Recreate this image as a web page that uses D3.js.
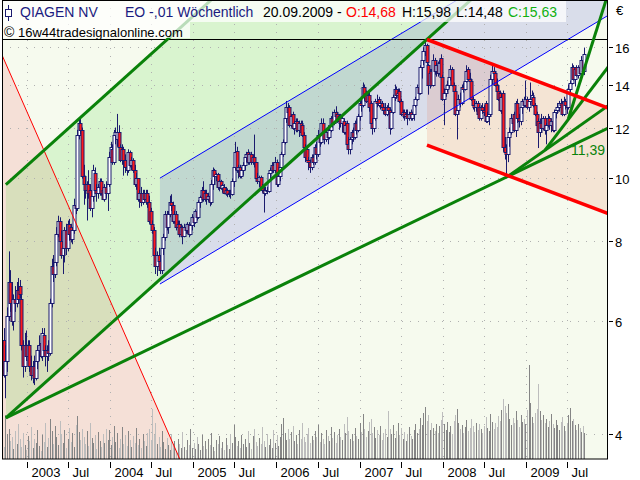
<!DOCTYPE html>
<html><head><meta charset="utf-8">
<script src="https://cdn.jsdelivr.net/npm/d3@7"></script>
<style>body{margin:0;background:#fff}svg{display:block}</style>
</head><body>
<svg id="c" width="640" height="480"></svg>
<script>
// ---------- DATA ----------
const firstWeek = "2002-09-23"; // weekly bars, one per week from here
const opens = [
5.6,4.95,5.2,6.1,6.9,6.4,6.0,6.5,6.4,6.7, 6.8,6.5,5.5,5.1,5.5,5.3,5.5,5.1,4.95,5.1,
4.9,5.2,5.4,5.55,5.3,5.7,5.4,5.3,5.4,5.35, 6.4,7.3,7.1,7.4,8.2,8.6,8.0,7.6,7.8,8.3,
7.8,8.5,8.4,8.05,8.3,9.1,9.0,11.7,12.2,11.9, 10.1,9.8,9.6,9.8,9.6,9.0,9.4,10.2,9.6,9.5,
9.7,9.9,9.6,9.3,9.7,9.5,9.8,10.8,11.1,10.6, 11.7,11.5,11.8,11.2,10.7,11.1,10.7,10.4,10.3,11.0,
10.5,10.7,10.3,9.8,10.0,9.3,9.5,9.2,9.5,9.3, 9.5,9.2,8.9,8.5,8.3,7.6,7.3,7.6,7.45,7.2,
7.8,8.1,8.8,8.4,8.8,9.2,9.1,8.6,8.8,8.4, 8.5,8.2,8.4,8.15,8.4,8.3,8.5,8.2,8.45,8.7,
8.55,8.9,8.7,9.2,9.35,9.6,9.3,9.5,9.3,9.4, 9.2,9.8,10.3,10.1,10.15,9.7,9.9,9.65,9.7,9.5,
9.6,9.45,9.5,9.45,9.9,10.4,11.05,10.3,10.4,10.1, 10.3,10.5,10.8,11.0,10.6,10.9,10.6,10.8,10.6,10.0,
9.9,10.05,9.7,9.6,9.5,9.6,9.55,10.2,10.3,10.5, 10.3,10.6,9.8,10.1,10.4,10.9,11.4,12.4,12.9,12.9,
12.1,12.6,12.0,12.2,12.3,11.9,12.2,12.1,11.7,11.2, 11.1,10.7,10.6,10.4,10.8,10.6,11.2,10.9,11.7,11.4,
12.2,11.8,11.5,11.8,11.6,11.9,12.4,12.2,12.7,12.6, 12.3,12.5,12.2,12.3,11.8,12.2,11.3,11.1,11.5,11.8,
11.6,12.2,11.9,12.5,13.1,13.0,13.9,13.6,13.2,13.5, 13.1,12.2,12.0,12.4,13.2,13.3,13.0,13.1,12.9,12.8,
12.6,12.9,12.8,12.0,12.7,13.4,13.8,13.5,13.7,13.2, 12.6,12.7,12.5,12.6,12.4,12.7,12.4,12.6,13.0,13.3,
13.9,13.6,14.9,15.3,15.8,16.1,15.0,14.0,14.7,14.0, 15.3,14.7,15.0,14.6,15.4,14.4,13.3,13.6,13.8,14.0,
14.4,14.8,14.0,13.7,12.6,12.8,13.3,13.1,13.9,13.8, 14.2,14.8,14.3,14.2,13.3,13.0,12.9,13.1,12.9,12.4,
12.9,12.8,13.1,12.3,12.5,12.6,14.3,14.7,14.6,14.0, 13.7,13.6,12.8,13.6,11.2,11.0,10.9,11.6,11.8,12.4,
12.6,11.9,13.1,12.4,12.3,12.9,13.2,13.0,13.3,12.9, 13.2,13.3,13.4,13.0,12.6,12.3,11.8,12.2,12.0,12.4,
11.9,12.1,12.4,12.1,12.3,11.9,12.7,12.8,12.9,13.1, 13.1,12.6,13.2,13.0,12.9,13.8,14.1,14.9,14.3,14.9,
14.5,14.9,14.6,15.3,14.68];
const highs = [
5.85,5.5,6.3,7.7,7.2,6.9,6.6,6.8,6.9,7.0, 6.95,6.6,5.6,5.75,5.8,5.6,5.6,5.3,5.2,5.3,
5.25,5.5,5.7,5.7,5.85,5.85,5.5,5.5,5.6,6.5, 7.5,7.6,7.5,8.4,8.75,8.7,8.3,8.0,8.4,8.5,
8.6,8.65,8.5,8.4,9.3,9.4,11.9,12.45,12.4,12.0, 10.5,10.1,9.9,10.3,9.8,9.5,10.5,10.4,9.8,9.8,
10.0,10.0,9.7,9.8,9.9,9.9,11.0,11.4,11.3,11.9, 12.0,12.6,12.1,11.3,11.3,11.2,10.9,10.6,11.1,11.05,
10.8,10.75,10.5,10.2,10.0,9.6,9.7,9.6,9.6,9.6, 9.6,9.4,9.0,8.6,8.4,7.8,7.7,7.8,7.6,7.9,
8.2,8.9,8.9,8.9,9.4,9.45,9.2,8.9,8.9,8.6, 8.6,8.5,8.45,8.5,8.5,8.55,8.55,8.5,8.8,8.8,
8.95,9.0,9.25,9.4,9.7,9.9,9.6,9.6,9.5,9.5, 9.95,10.4,10.35,10.2,10.2,9.95,9.95,9.8,9.8,9.7,
9.65,9.6,9.6,10.0,10.5,11.4,11.2,10.5,10.5,10.4, 10.6,10.9,11.0,11.1,11.0,11.0,10.9,11.7,10.6,10.2,
10.1,10.1,9.8,9.7,9.7,9.7,10.3,10.4,10.6,10.6, 10.8,10.7,10.2,10.5,11.0,11.5,12.5,13.2,13.1,13.0,
12.6,12.7,12.3,12.4,12.4,12.3,12.3,12.3,11.8,11.3, 11.2,10.8,10.7,10.9,10.9,11.3,11.4,11.9,11.9,12.4,
12.4,11.9,11.9,12.1,12.0,12.5,12.7,12.8,12.95,12.7, 12.6,12.6,12.5,12.4,12.2,12.3,11.6,11.6,11.9,12.0,
12.3,12.4,12.6,13.2,13.4,14.1,14.0,13.7,13.6,13.7, 13.2,12.4,12.5,13.3,13.5,13.4,13.2,13.2,13.1,13.1,
13.0,13.1,12.9,12.8,13.5,14.0,13.9,13.8,13.8,13.3, 12.8,12.8,12.8,12.8,12.7,12.8,12.7,13.2,13.4,14.0,
14.0,15.0,15.5,16.0,16.45,16.2,15.1,14.8,14.8,15.6, 15.4,15.2,15.2,15.3,15.6,14.5,13.8,14.0,14.2,14.5,
15.0,14.9,14.1,13.8,13.0,13.5,13.6,14.0,14.1,14.4, 15.0,14.9,14.6,14.3,13.4,13.2,13.2,13.2,13.0,13.0,
13.1,13.0,13.2,12.7,12.8,14.5,15.0,14.9,14.7,14.3, 14.0,13.7,13.6,13.7,11.6,11.3,11.8,12.0,12.6,12.6,
12.7,13.2,13.3,12.6,13.0,13.3,13.4,14.2,13.4,13.3, 14.1,13.7,13.6,13.1,12.7,12.4,12.4,12.6,12.5,12.5,
12.2,12.6,12.5,12.4,12.4,12.8,12.9,13.1,13.2,13.3, 13.2,13.4,13.3,13.1,14.0,14.2,15.1,15.0,14.9,15.0,
15.0,15.0,15.5,15.4,15.98];
const lows = [
4.9,4.55,5.0,6.0,6.2,5.9,5.8,6.2,6.3,6.4, 6.5,5.4,4.9,5.0,5.2,5.1,5.0,4.85,4.8,4.77,
4.85,5.05,5.2,5.25,5.2,5.35,5.1,5.0,5.2,5.3, 6.3,6.9,7.0,7.3,8.1,7.9,7.5,7.1,7.4,7.6,
7.7,8.0,7.95,7.9,8.2,8.8,8.9,11.5,11.7,10.0, 9.1,9.3,8.6,9.3,8.9,8.7,9.2,9.5,9.2,9.3,
9.4,9.4,9.25,9.2,9.3,8.9,9.7,10.6,10.5,10.5, 11.3,11.2,11.1,10.6,10.5,10.1,10.2,10.1,10.2,10.4,
10.3,10.2,9.7,9.6,9.2,9.0,9.05,9.1,9.2,9.1, 9.0,8.5,8.4,8.2,7.5,7.1,7.05,7.2,7.1,7.1,
7.6,8.0,8.3,8.2,8.7,8.9,8.5,8.5,8.3,8.2, 8.1,8.1,7.9,8.1,8.2,8.2,8.1,8.15,8.3,8.4,
8.5,8.6,8.65,9.0,9.2,9.2,9.2,9.1,9.2,9.05, 9.1,9.6,9.8,9.9,9.6,9.55,9.6,9.5,9.45,9.4,
9.35,9.35,9.3,9.4,9.7,10.3,10.2,10.0,10.0,10.0, 10.1,10.3,10.6,10.5,10.5,10.5,10.5,10.4,9.9,9.8,
9.7,9.6,9.5,8.85,9.4,9.45,9.5,9.9,10.2,10.2, 10.2,9.7,9.7,9.9,10.3,10.8,11.3,12.2,12.4,12.0,
12.0,11.9,11.7,11.8,11.8,11.6,11.7,11.6,11.0,10.6, 10.6,10.3,10.2,10.3,10.5,10.5,10.7,10.8,11.2,11.3,
11.6,11.3,11.4,11.3,11.5,11.8,12.0,12.1,12.3,12.2, 11.9,12.0,11.8,11.7,11.7,11.2,10.9,10.9,11.3,11.4,
11.5,11.7,11.8,12.3,12.7,12.9,13.2,13.1,12.9,12.7, 12.1,11.7,11.8,12.3,12.9,12.9,12.8,12.8,12.6,12.5,
12.5,12.6,11.7,11.9,12.6,13.2,13.3,13.2,13.1,12.5, 12.4,12.3,12.4,12.1,12.3,12.3,12.3,12.3,12.9,13.2,
13.5,13.5,14.3,15.0,15.5,15.0,13.5,13.8,13.9,13.9, 14.5,14.4,14.4,14.5,14.3,13.2,12.1,13.4,13.6,13.8,
14.2,13.9,13.6,12.5,11.5,12.6,12.9,13.0,13.6,13.7, 14.1,14.2,14.0,13.2,12.8,12.7,12.7,12.4,12.3,12.3,
12.6,12.5,12.2,12.2,12.1,12.5,14.0,14.3,13.9,13.5, 13.2,12.7,12.6,11.0,10.7,10.05,10.6,11.2,11.7,11.9,
11.8,11.6,12.2,12.0,12.1,12.6,12.9,12.9,12.8,12.7, 13.0,13.1,12.9,12.5,12.0,11.15,11.6,11.8,11.9,11.7,
11.3,12.0,11.9,11.8,11.8,11.8,12.4,12.6,12.7,12.8, 12.5,12.5,12.8,12.6,12.8,13.5,14.0,14.2,13.9,14.4,
14.3,14.5,14.5,14.6,14.48];
const closes = [
4.95,5.2,6.1,6.9,6.4,6.0,6.5,6.4,6.7,6.5, 6.6,5.5,5.1,5.5,5.3,5.5,5.1,4.95,5.1,4.9,
5.2,5.4,5.5,5.3,5.75,5.4,5.3,5.4,5.35,6.4, 7.3,7.1,7.4,8.2,8.6,8.0,7.6,7.8,8.3,7.8,
8.5,8.2,8.05,8.3,9.1,9.0,11.7,12.2,11.9,10.1, 9.8,9.6,9.8,9.5,9.0,9.4,10.3,9.6,9.5,9.7,
9.9,9.5,9.3,9.7,9.5,9.8,10.8,11.2,10.6,11.7, 11.8,11.8,11.2,10.7,11.1,10.7,10.4,10.3,11.0,10.5,
10.7,10.3,9.8,10.0,9.3,9.5,9.2,9.5,9.3,9.5, 9.2,8.6,8.5,8.3,7.6,7.3,7.6,7.45,7.2,7.8,
8.1,8.8,8.4,8.8,9.2,9.1,8.6,8.8,8.4,8.5, 8.2,8.4,8.15,8.4,8.3,8.5,8.2,8.45,8.7,8.55,
8.9,8.7,9.2,9.35,9.6,9.3,9.5,9.3,9.4,9.2, 9.8,10.3,10.1,10.15,9.7,9.9,9.65,9.75,9.5,9.6,
9.45,9.5,9.45,9.9,10.4,11.0,10.3,10.4,10.1,10.3, 10.5,10.8,10.9,10.6,10.9,10.6,10.8,10.6,10.0,9.9,
10.05,9.7,9.6,9.5,9.6,9.55,10.2,10.3,10.5,10.3, 10.6,9.8,10.1,10.4,10.9,11.4,12.4,12.9,12.7,12.1,
12.5,12.0,12.2,12.3,11.9,12.2,11.8,11.7,11.2,10.8, 10.7,10.6,10.4,10.8,10.6,11.2,10.9,11.7,11.4,12.2,
11.8,11.5,11.8,11.6,11.9,12.4,12.2,12.7,12.5,12.3, 12.5,12.2,12.4,11.8,12.1,11.3,11.1,11.5,11.8,11.6,
12.2,11.9,12.5,13.1,13.0,13.9,13.4,13.2,13.5,12.9, 12.2,12.0,12.4,13.2,13.1,13.0,13.1,12.9,12.8,12.6,
12.9,12.8,12.0,12.7,13.4,13.8,13.5,13.6,13.2,12.6, 12.7,12.5,12.6,12.4,12.6,12.4,12.6,13.0,13.3,13.9,
13.6,14.9,15.3,15.8,16.1,15.2,14.0,14.6,14.0,15.3, 14.7,15.0,14.6,15.1,14.4,13.3,13.6,13.8,14.0,14.4,
14.8,14.0,13.7,12.6,12.8,13.3,13.1,13.9,13.8,14.2, 14.7,14.3,14.2,13.3,13.0,12.9,13.1,12.6,12.4,12.9,
12.8,12.7,12.3,12.5,12.6,14.3,14.7,14.6,14.0,13.7, 13.3,12.8,13.4,11.2,11.0,10.9,11.6,11.8,12.4,12.2,
11.9,13.1,12.4,12.3,12.9,13.2,13.0,13.3,12.9,13.2, 13.3,13.5,13.0,12.6,12.1,11.8,12.2,12.0,12.4,11.9,
12.1,12.4,12.1,12.3,11.9,12.7,12.8,12.9,13.1,13.0, 12.6,13.2,13.0,12.9,13.8,14.1,14.9,14.3,14.8,14.5,
14.9,14.6,15.3,14.7,15.63];
const volumes = [ // millions of shares (estimated)
1.2,4.4,2.5,3.0,1.8,2.2,1.0,2.8,1.5,3.5, 2.0,1.2,2.6,1.4,0.9,2.3,1.8,3.2,1.1,2.0,
1.6,2.9,1.3,0.8,2.4,1.7,3.6,1.2,2.1,4.0, 2.8,1.5,3.3,2.2,1.4,3.8,2.5,1.6,2.9,1.1,
2.0,3.1,1.7,2.6,1.2,3.4,4.3,2.7,1.9,3.0, 2.2,1.5,2.8,1.3,3.6,2.1,1.6,2.4,1.0,2.7,
1.8,1.2,2.5,1.6,3.0,1.9,2.9,1.4,2.2,3.3, 1.7,2.6,1.1,2.0,3.2,1.5,2.4,1.3,2.8,1.9,
1.2,2.3,1.6,3.1,1.4,2.0,1.1,2.5,1.8,1.3, 2.6,3.0,1.9,5.0,2.4,3.6,1.5,2.2,1.2,2.8,
1.7,1.0,2.1,1.4,0.9,2.5,1.3,1.8,0.8,2.0, 1.5,1.1,2.7,1.2,0.9,1.9,1.4,3.0,1.1,1.6,
1.0,2.2,1.5,0.9,2.4,1.3,1.8,1.0,2.0,1.4, 2.6,1.2,0.8,1.9,1.5,2.3,1.1,1.7,0.9,2.1,
1.4,1.0,2.5,1.6,3.4,2.2,1.3,1.8,1.1,2.4, 1.5,2.0,1.2,2.8,1.6,1.0,2.3,3.0,1.7,1.3,
2.1,1.5,3.2,1.8,1.2,2.5,1.4,2.0,1.1,2.9, 1.6,2.4,1.3,2.2,3.5,4.1,2.6,1.9,3.0,2.0,
2.7,3.3,1.8,2.4,1.5,2.9,2.0,3.6,2.2,1.7, 2.5,3.1,1.6,2.3,1.9,2.8,2.2,3.4,1.7,2.6,
2.0,1.5,2.9,2.3,1.8,3.2,2.1,2.7,1.6,2.4, 3.0,2.2,1.9,3.5,2.6,4.2,2.8,2.0,2.5,1.8,
3.1,2.3,2.0,3.6,2.7,4.5,3.0,2.2,2.8,3.7, 4.0,2.6,3.2,2.1,2.9,2.4,3.3,1.9,2.6,3.0,
2.2,4.8,3.0,2.5,3.4,2.1,2.8,3.6,2.4,3.1, 2.0,2.7,1.8,2.5,3.2,2.3,2.0,2.9,3.5,2.6,
3.0,4.1,3.4,4.6,5.2,3.8,4.4,2.9,3.6,3.1, 2.8,3.5,2.6,3.3,3.9,4.7,3.5,2.9,3.7,2.7,
3.3,2.5,3.8,4.4,5.0,3.6,3.0,3.4,2.6,3.2, 3.9,2.8,3.1,4.0,3.3,2.7,3.6,2.9,3.5,3.0,
2.6,3.3,4.2,3.1,2.8,4.5,3.7,3.0,3.6,3.2, 4.3,3.8,4.9,6.0,5.3,4.6,5.5,4.0,3.4,4.1,
3.6,4.8,3.9,3.2,4.4,3.7,4.0,3.5,4.9,9.4, 5.6,4.2,3.6,4.6,5.0,7.5,4.8,3.9,4.4,3.6,
4.0,3.2,3.8,4.5,3.5,3.1,3.9,3.4,2.9,3.7, 4.2,3.3,2.8,3.6,4.4,5.1,3.8,4.0,3.4,2.9,
3.5,3.1,2.7,3.3,2.6];
const yTickValues = [4, 6, 8, 10, 12, 14, 16];
const xTickDates = ["2003-01-01","2003-07-01","2004-01-01","2004-07-01","2005-01-01","2005-07-01","2006-01-01",
  "2006-07-01","2007-01-01","2007-07-01","2008-01-01","2008-07-01","2009-01-01","2009-07-01"];
const xTickLabels = ["2003","Jul","2004","Jul","2005","Jul","2006","Jul","2007","Jul","2008","Jul","2009","Jul"];
// drawing-tool anchors (date, price)
const greenChannelLower = [["2002-10-02",4.24],["2007-10-16",16.36]];
const greenChannelUpperAnchor = ["2003-08-23",12.42];
const blueChannelLower = [["2004-08-08",6.85],["2009-07-22",16.6]];
const blueChannelUpperAnchor = ["2004-08-08",10.01];
const redChannelUpper = [["2007-10-24",16.45],["2009-12-14",12.92]];
const redChannelLowerAnchor = ["2007-10-24",11.27];
const redThinLine = [["2002-12-11",13.24],["2004-01-01",6.47]];
const fanLines = [
  [["2002-10-02",4.24],["2008-10-14",10.08]],
  [["2008-10-14",10.08],["2009-12-30",13.0]],
  [["2009-03-25",11.07],["2009-12-30",14.96]],
  [["2009-07-05",12.37],["2009-12-18",18.95]]
];
const resistanceLevel = 16.45;
const trendLabel = "11,39";
const trendLabelValue = 11.39;
const header = {name:"QIAGEN NV", info:"EO -,01 Wöchentlich", date:"20.09.2009 -",
  o:"O:14,68", h:"H:15,98", l:"L:14,48", c:"C:15,63"};
const copyright = {sign:"©", site:"16w44tradesignalonline.com"};

// ---------- SCALES ----------
const P = {l:2, r:607, t:0, b:459};
const parse = d3.utcParse("%Y-%m-%d");
const x = d3.scaleUtc().domain([parse("2002-09-15"), parse("2009-12-22")]).range([P.l, P.r]);
const y = d3.scaleLog().domain([3.66, 18.95]).range([P.b, P.t]);
const yVol = d3.scaleLinear().domain([0, 10]).range([P.b, P.b - 100]);

const n = Math.min(opens.length, highs.length, lows.length, closes.length);
const start = parse(firstWeek);
const bars = d3.range(n).map(i => {
  const o = opens[i], c = closes[i];
  return {d: d3.utcDay.offset(start, 7*i), o, c,
    h: Math.max(highs[i], o, c), l: Math.min(lows[i], o, c), v: volumes[i] || 0};
});

const svg = d3.select("#c");
const FONT = "'Liberation Sans', Arial, sans-serif";
svg.append("rect").attr("width",640).attr("height",480).attr("fill","#ffffff");

const defs = svg.append("defs");
defs.append("clipPath").attr("id","plot").append("rect")
  .attr("x",P.l).attr("y",P.t).attr("width",P.r-P.l).attr("height",P.b-P.t);
const g = svg.append("g").attr("clip-path","url(#plot)");
g.append("rect").attr("x",P.l).attr("y",P.t).attr("width",P.r-P.l).attr("height",P.b-P.t).attr("fill","#f6faee");

function pt(a){ return [x(parse(a[0])), y(a[1])]; }
function lineFn(a, b){ const p=pt(a), q=pt(b); const m=(q[1]-p[1])/(q[0]-p[0]); return {p, m, at: X => p[1] + m*(X-p[0])}; }
function parallel(base, anchor){ const p=pt(anchor); return {p, m: base.m, at: X => p[1] + base.m*(X-p[0])}; }
const FAR = 2000;

// pink triangle (left of thin red line)
const rl = lineFn(redThinLine[0], redThinLine[1]);
const xAtY = Y => rl.p[0] + (Y - rl.p[1]) / rl.m;
g.append("path").attr("fill","#f5e0d7")
  .attr("d", d3.line()([[xAtY(-100),-100],[xAtY(700),700],[-1000,700],[-1000,-100]]));

// green channel fill
const gl = lineFn(greenChannelLower[0], greenChannelLower[1]);
const gu = parallel(gl, greenChannelUpperAnchor);
const gx0 = gl.p[0];
g.append("path").attr("fill","rgb(70,215,50)").attr("fill-opacity",0.16)
  .attr("d", d3.line()([[gx0, gl.at(gx0)],[gx0, gu.at(gx0)],[FAR, gu.at(FAR)],[FAR, gl.at(FAR)]]));

// blue channel fill
const bl = lineFn(blueChannelLower[0], blueChannelLower[1]);
const bu = parallel(bl, blueChannelUpperAnchor);
const bx0 = bl.p[0];
g.append("path").attr("fill","rgb(80,80,215)").attr("fill-opacity",0.17)
  .attr("d", d3.line()([[bx0, bl.at(bx0)],[bx0, bu.at(bx0)],[FAR, bu.at(FAR)],[FAR, bl.at(FAR)]]));

// red channel fill
const ru = lineFn(redChannelUpper[0], redChannelUpper[1]);
const rlo = parallel(ru, redChannelLowerAnchor);
const rx0 = ru.p[0];
g.append("path").attr("fill","rgb(235,110,70)").attr("fill-opacity",0.15)
  .attr("d", d3.line()([[rx0, ru.at(rx0)],[rx0, rlo.at(rx0)],[FAR, rlo.at(FAR)],[FAR, ru.at(FAR)]]));

// grid
const grid = g.append("g").attr("stroke","#b0b0b0").attr("stroke-dasharray","1,7");
yTickValues.forEach(v => { const yy = Math.round(y(v))+0.5;
  grid.append("line").attr("x1",P.l).attr("x2",P.r).attr("y1",yy).attr("y2",yy); });
xTickDates.forEach(d => { const xx = Math.round(x(parse(d)))+0.5;
  grid.append("line").attr("x1",xx).attr("x2",xx).attr("y1",P.t).attr("y2",P.b); });

// volume
g.append("g").selectAll("line").data(bars).join("line")
  .attr("x1", d => Math.round(x(d.d))+0.5).attr("x2", d => Math.round(x(d.d))+0.5)
  .attr("y1", P.b).attr("y2", d => yVol(d.v))
  .attr("stroke", d => d.c >= d.o ? "#858585" : "#bdbdbd").attr("stroke-width",1);

// candles
const cg = g.append("g");
bars.forEach(d => {
  const cx = Math.round(x(d.d));
  cg.append("line").attr("x1",cx+0.5).attr("x2",cx+0.5).attr("y1",y(d.h)).attr("y2",y(d.l))
    .attr("stroke","#1b1b6e").attr("stroke-width",1);
  const top = Math.round(y(Math.max(d.o,d.c))), bot = Math.round(y(Math.min(d.o,d.c)));
  cg.append("rect").attr("x",cx-1).attr("width",3).attr("y",top+0.5).attr("height",Math.max(1,bot-top))
    .attr("fill", d.c >= d.o ? "#ffffff" : "#ff1a1a").attr("stroke","#1b1b6e").attr("stroke-width",1);
});

// blue channel lines
[bl, bu].forEach(L => g.append("line").attr("x1",bx0).attr("y1",L.at(bx0)).attr("x2",FAR).attr("y2",L.at(FAR))
  .attr("stroke","#0000ff").attr("stroke-width",1));
// resistance line
g.append("line").attr("x1",P.l).attr("x2",P.r).attr("y1",Math.round(y(resistanceLevel))+0.5).attr("y2",Math.round(y(resistanceLevel))+0.5)
  .attr("stroke","#000").attr("stroke-width",1);
// thin red line
g.append("line").attr("x1",xAtY(-100)).attr("y1",-100).attr("x2",xAtY(700)).attr("y2",700)
  .attr("stroke","#ff0000").attr("stroke-width",1);
// green channel lines
[gl, gu].forEach(L => g.append("line").attr("x1",gx0).attr("y1",L.at(gx0)).attr("x2",FAR).attr("y2",L.at(FAR))
  .attr("stroke","#0a820a").attr("stroke-width",3));
// fan lines
fanLines.forEach(a => { const L = lineFn(a[0], a[1]);
  g.append("line").attr("x1",L.p[0]).attr("y1",L.p[1]).attr("x2",FAR).attr("y2",L.at(FAR))
    .attr("stroke","#0a820a").attr("stroke-width",3); });
// red channel lines
[ru, rlo].forEach(L => g.append("line").attr("x1",rx0).attr("y1",L.at(rx0)).attr("x2",FAR).attr("y2",L.at(FAR))
  .attr("stroke","#ff0000").attr("stroke-width",3.5));
// trend label
g.append("text").attr("x",P.r-2).attr("y",y(trendLabelValue)+13).attr("text-anchor","end")
  .attr("font-family",FONT).attr("font-size",14).attr("fill","#0a820a").text(trendLabel);

// header overlay
svg.append("rect").attr("x",0).attr("y",0).attr("width",566).attr("height",22).attr("fill","#fff").attr("fill-opacity",0.72);
svg.append("rect").attr("x",0).attr("y",22).attr("width",190).attr("height",16).attr("fill","#fff").attr("fill-opacity",0.72);
const hg = svg.append("g").attr("font-family",FONT).attr("font-size",14);
// small candle icon
hg.append("line").attr("x1",8.5).attr("x2",8.5).attr("y1",5).attr("y2",21).attr("stroke","#1b1b6e");
hg.append("rect").attr("x",5.5).attr("y",9.5).attr("width",6).attr("height",7).attr("fill","#fff").attr("stroke","#1b1b6e");
const hdr = [[20,header.name,"#1b1b80"],[125,header.info,"#1b1b80"],[263,header.date,"#000"],
  [346,header.o,"#ff0000"],[402,header.h,"#000"],[456,header.l,"#000"],[508,header.c,"#10b010"]];
hdr.forEach(t => hg.append("text").attr("x",t[0]).attr("y",17).attr("fill",t[2]).text(t[1]));
hg.append("text").attr("x",4).attr("y",37).attr("fill","#000").text(copyright.sign);
hg.append("text").attr("x",18).attr("y",37).attr("fill","#000").attr("font-size",13).text(copyright.site);

// frame
svg.append("rect").attr("x",P.l+0.5).attr("y",P.t+0.5).attr("width",P.r-P.l).attr("height",P.b-P.t-0.5)
  .attr("fill","none").attr("stroke","#000").attr("stroke-width",1);

// right axis
const ax = svg.append("g").attr("font-family",FONT).attr("font-size",13).attr("fill","#000");
yTickValues.forEach(v => { const yy = Math.round(y(v))+0.5;
  ax.append("line").attr("x1",P.r+2).attr("x2",P.r+6).attr("y1",yy).attr("y2",yy).attr("stroke","#000");
  ax.append("text").attr("x",P.r+8).attr("y",yy+5).text(v); });
ax.append("text").attr("x",P.r+9).attr("y",15).text("€");
// bottom axis
xTickDates.forEach((d,i) => { const xx = Math.round(x(parse(d)))+0.5;
  ax.append("line").attr("x1",xx).attr("x2",xx).attr("y1",P.b+3).attr("y2",P.b+9).attr("stroke","#000");
  ax.append("text").attr("x",xx+4).attr("y",P.b+18).text(xTickLabels[i]); });
</script>
</body></html>
